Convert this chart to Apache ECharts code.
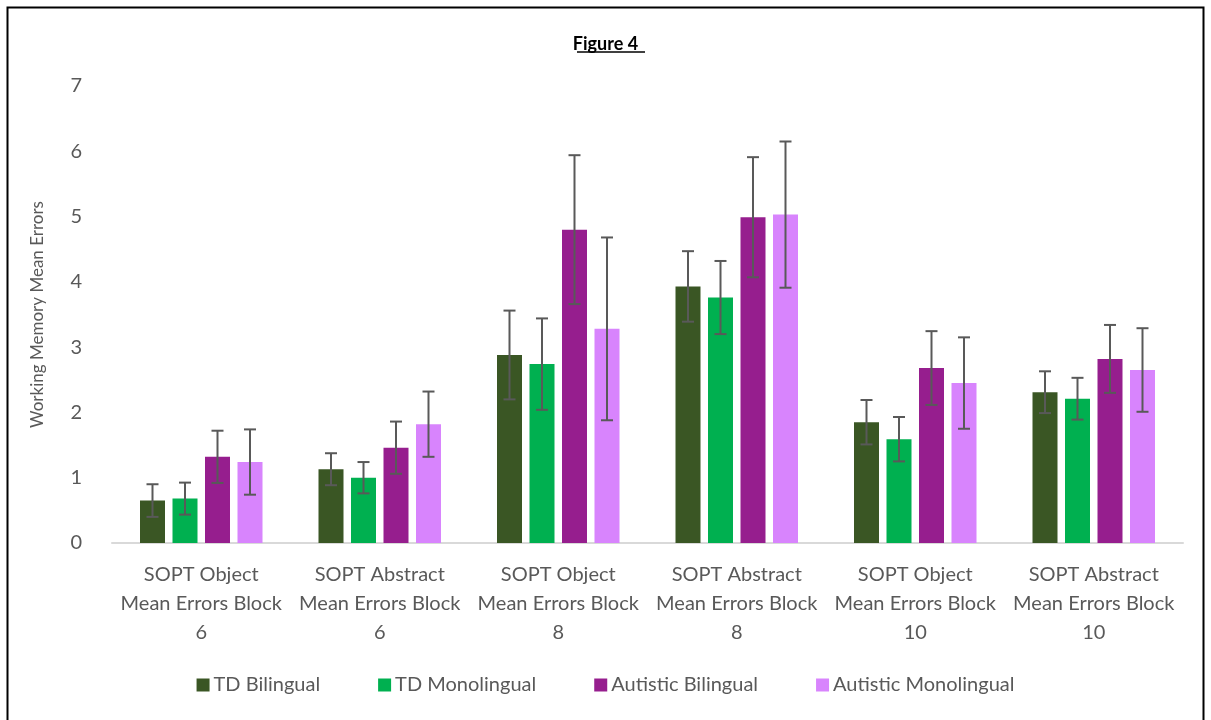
<!DOCTYPE html>
<html>
<head>
<meta charset="utf-8">
<script src="https://cdn.jsdelivr.net/npm/echarts@6/dist/echarts.min.js"></script>
<style>
  html, body { margin: 0; padding: 0; background: #fff; }
  #chart { width: 1211px; height: 720px; }
</style>
</head>
<body>
<div id="chart"></div>
<script>
var categories = [
  'SOPT Object\nMean Errors Block\n6',
  'SOPT Abstract\nMean Errors Block\n6',
  'SOPT Object\nMean Errors Block\n8',
  'SOPT Abstract\nMean Errors Block\n8',
  'SOPT Object\nMean Errors Block\n10',
  'SOPT Abstract\nMean Errors Block\n10'
]
var seriesNames = ['TD Bilingual', 'TD Monolingual', 'Autistic Bilingual', 'Autistic Monolingual']
var colors = ['#3a5624', '#00b050', '#961e8e', '#d884fd']

var tdBilingual = [0.65, 1.13, 2.88, 3.93, 1.85, 2.31]
var tdMonolingual = [0.68, 1.00, 2.74, 3.76, 1.59, 2.21]
var autBilingual = [1.32, 1.46, 4.80, 4.99, 2.68, 2.82]
var autMonolingual = [1.24, 1.82, 3.28, 5.03, 2.45, 2.65]

var tdBilingualErr = [0.25, 0.245, 0.68, 0.54, 0.34, 0.32]
var tdMonolingualErr = [0.245, 0.24, 0.70, 0.56, 0.34, 0.32]
var autBilingualErr = [0.40, 0.40, 1.14, 0.92, 0.565, 0.52]
var autMonolingualErr = [0.50, 0.50, 1.40, 1.12, 0.70, 0.64]

var values = [tdBilingual, tdMonolingual, autBilingual, autMonolingual]
var errors = [tdBilingualErr, tdMonolingualErr, autBilingualErr, autMonolingualErr]

var barWidth = 25
var barSpacing = 32.5
var fontFam = 'Lato, "Open Sans", sans-serif'

var chart = echarts.init(document.getElementById('chart'))

var series = []
seriesNames.forEach(function (name, i) {
  series.push({
    name: name,
    type: 'bar',
    barWidth: barWidth,
    barGap: '30%',
    itemStyle: { color: colors[i] },
    data: values[i]
  })
})
// error bars, offset to sit on the centre of each bar in the group
seriesNames.forEach(function (name, i) {
  var errData = values[i].map(function (v, k) {
    return [k, v - errors[i][k], v + errors[i][k]]
  })
  series.push({
    type: 'custom',
    silent: true,
    z: 10,
    renderItem: function (params, api) {
      var lo = api.coord([api.value(0), api.value(1)])
      var hi = api.coord([api.value(0), api.value(2)])
      var x = lo[0] + (i - 1.5) * barSpacing
      var cap = 6
      var style = { stroke: '#595959', lineWidth: 2 }
      return {
        type: 'group',
        children: [
          { type: 'line', shape: { x1: x, y1: lo[1], x2: x, y2: hi[1] }, style: style },
          { type: 'line', shape: { x1: x - cap, y1: hi[1], x2: x + cap, y2: hi[1] }, style: style },
          { type: 'line', shape: { x1: x - cap, y1: lo[1], x2: x + cap, y2: lo[1] }, style: style }
        ]
      }
    },
    encode: { x: 0, y: [1, 2] },
    data: errData
  })
})

chart.setOption({
  backgroundColor: '#fff',
  animation: false,
  textStyle: { fontFamily: fontFam },
  title: {
    text: 'Figure 4',
    left: 'center',
    top: 30,
    textStyle: { fontSize: 18, fontWeight: 'bold', color: '#000', fontFamily: fontFam }
  },
  graphic: [
    {
      type: 'rect',
      shape: { x: 7.5, y: 7.5, width: 1196, height: 720 },
      style: { fill: 'none', stroke: '#000', lineWidth: 2 }
    },
    {
      type: 'line',
      shape: { x1: 577, y1: 52, x2: 645, y2: 52 },
      style: { stroke: '#000', lineWidth: 1.5 }
    }
  ],
  legend: {
    data: seriesNames,
    bottom: 20,
    left: 'center',
    itemWidth: 13,
    itemHeight: 13,
    itemGap: 58,
    icon: 'rect',
    textStyle: { fontSize: 20, color: '#595959', fontFamily: fontFam, padding: [0, 0, 0, -1] }
  },
  grid: { left: 112, right: 28, top: 86, bottom: 177 },
  xAxis: {
    type: 'category',
    data: categories,
    axisLine: { lineStyle: { color: '#d9d9d9', width: 2 } },
    axisTick: { show: false },
    axisLabel: {
      interval: 0,
      color: '#595959',
      fontSize: 20,
      lineHeight: 29,
      margin: 17,
      fontFamily: fontFam
    }
  },
  yAxis: {
    type: 'value',
    min: 0,
    max: 7,
    interval: 1,
    name: 'Working Memory Mean Errors',
    nameLocation: 'middle',
    nameGap: 66,
    nameTextStyle: { fontSize: 17, color: '#595959', fontFamily: fontFam },
    axisLine: { show: false },
    axisTick: { show: false },
    splitLine: { show: false },
    axisLabel: { color: '#595959', fontSize: 20, margin: 30, fontFamily: fontFam }
  },
  series: series
})
</script>
</body>
</html>
